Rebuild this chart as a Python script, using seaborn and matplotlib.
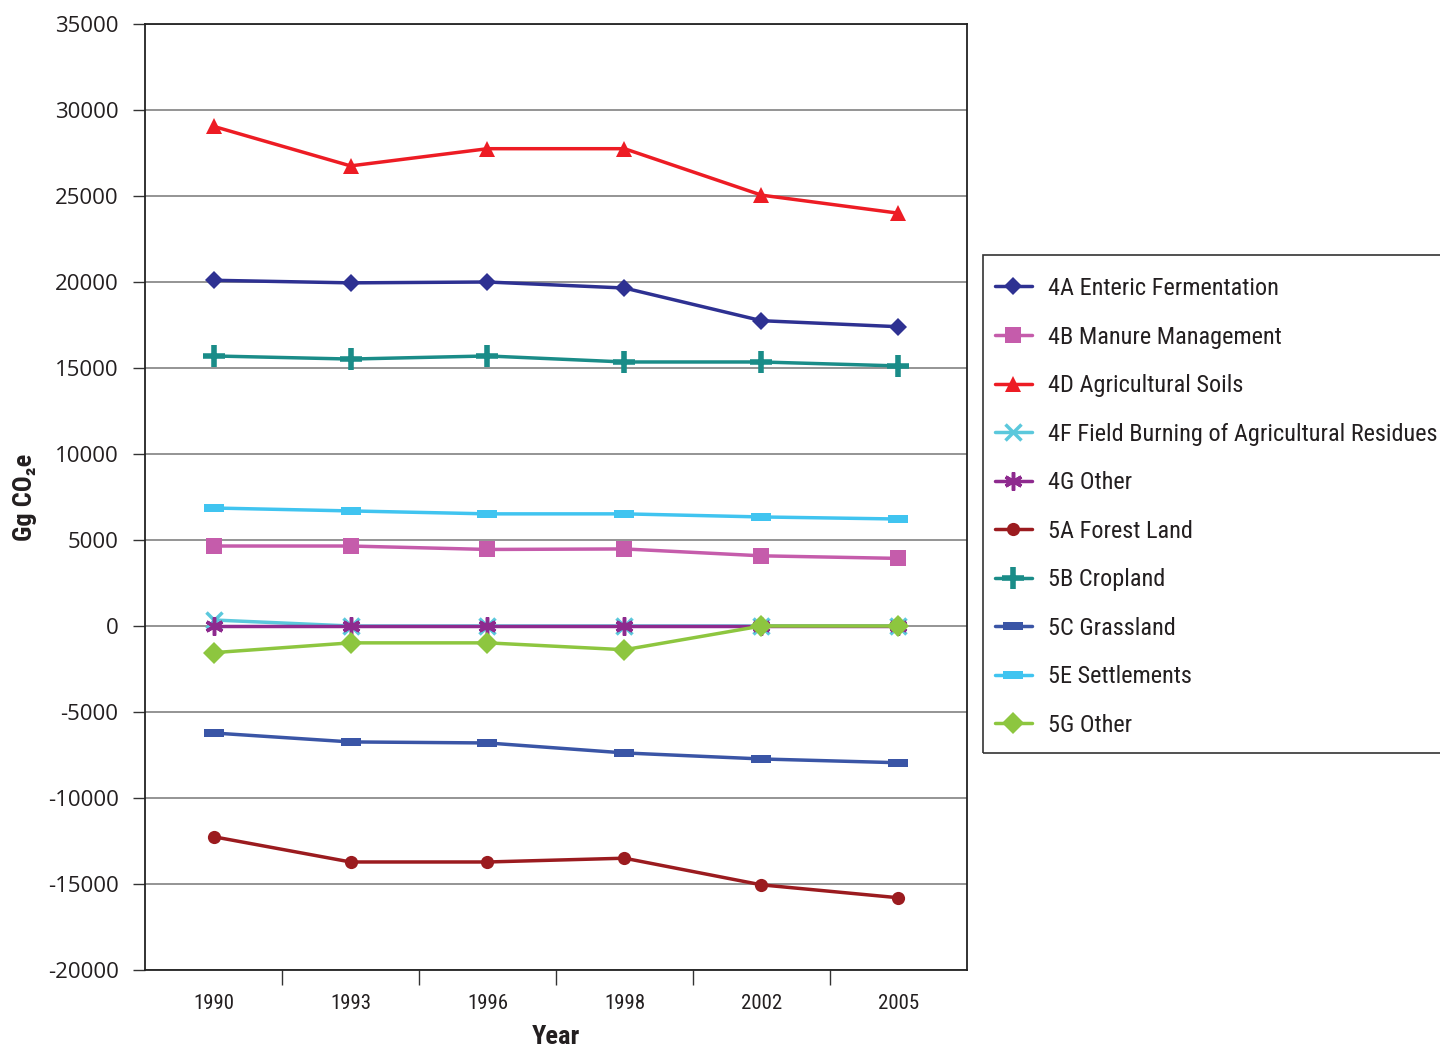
import numpy as np
import pandas as pd
import matplotlib
matplotlib.use("Agg")
import matplotlib.pyplot as plt
from matplotlib import font_manager
from matplotlib.patches import Rectangle
import seaborn as sns

years = ["1990", "1993", "1996", "1998", "2002", "2005"]

enteric_fermentation = [20100, 19950, 20000, 19650, 17750, 17400]
manure_management = [4650, 4650, 4450, 4480, 4080, 3930]
agricultural_soils = [29050, 26750, 27750, 27750, 25050, 24000]
field_burning = [350, 0, 0, 0, 0, 0]
other_4g = [0, 0, 0, 0, 0, 0]
forest_land = [-12250, -13720, -13720, -13500, -15050, -15800]
cropland = [15700, 15520, 15700, 15350, 15350, 15120]
grassland = [-6220, -6740, -6800, -7380, -7730, -7950]
settlements = [6860, 6690, 6520, 6520, 6340, 6220]
other_5g = [-1550, -980, -980, -1380, 0, 0]

series_names = [
    "4A Enteric Fermentation",
    "4B Manure Management",
    "4D Agricultural Soils",
    "4F Field Burning of Agricultural Residues",
    "4G Other",
    "5A Forest Land",
    "5B Cropland",
    "5C Grassland",
    "5E Settlements",
    "5G Other",
]
series_values = [
    enteric_fermentation, manure_management, agricultural_soils, field_burning,
    other_4g, forest_land, cropland, grassland, settlements, other_5g,
]

# wide bar-shaped marker for the land-use series
wide_bar = [(-1, -0.42), (1, -0.42), (1, 0.42), (-1, 0.42), (-1, -0.42)]

styles = {
    "4A Enteric Fermentation": dict(color="#2E3192", marker="D", ms=9.5, mew=0),
    "4B Manure Management": dict(color="#C55CAB", marker="s", ms=11, mew=0),
    "4D Agricultural Soils": dict(color="#ED1C24", marker="^", ms=11, mew=0),
    "4F Field Burning of Agricultural Residues": dict(color="#5BC8DC", marker="x", ms=11, mew=2.5),
    "4G Other": dict(color="#8E2A8E", marker=(6, 2, 0), ms=13, mew=2.5),
    "5A Forest Land": dict(color="#9B1B1F", marker="o", ms=9.5, mew=0),
    "5B Cropland": dict(color="#1A8C88", marker="+", ms=16, mew=4),
    "5C Grassland": dict(color="#3A55A6", marker=wide_bar, ms=14, mew=0),
    "5E Settlements": dict(color="#40C4F0", marker=wide_bar, ms=14, mew=0),
    "5G Other": dict(color="#8DC63F", marker="D", ms=11, mew=0),
}


def pick_font(names):
    for n in names:
        try:
            font_manager.findfont(n, fallback_to_default=False)
            return n
        except Exception:
            continue
    return "DejaVu Sans"


narrow = pick_font(["Liberation Sans Narrow", "Roboto Condensed", "Open Sans Condensed", "Liberation Sans"])
regular = pick_font(["Open Sans", "Liberation Sans"])

sns.set_theme(style="white")
plt.rcParams["font.family"] = [narrow, "DejaVu Sans"]

W, H = 1440, 1049
fig = plt.figure(figsize=(W / 100, H / 100), dpi=100)
ax = fig.add_axes([145 / W, 1 - 970 / H, (967 - 145) / W, (970 - 24) / H])

x = np.arange(len(years))
for name, vals in zip(series_names, series_values):
    st = styles[name]
    df = pd.DataFrame({"pos": x, "value": vals})
    sns.lineplot(data=df, x="pos", y="value", ax=ax, color=st["color"], lw=2.5,
                 marker=st["marker"], markersize=st["ms"], markeredgewidth=st["mew"],
                 markeredgecolor=st["color"], markerfacecolor=st["color"],
                 label=name, zorder=3)

ax.set_xlim(-0.5, len(years) - 0.5)
ax.set_ylim(-20000, 35000)
ax.set_yticks(np.arange(-20000, 35001, 5000))
ax.set_yticklabels([str(v) for v in range(-20000, 35001, 5000)],
                   fontsize=16, family=[regular, "DejaVu Sans"], color="#231F20")
ax.set_xticks(x)
ax.set_xticklabels(years, fontsize=15, color="#231F20")
ax.set_xticks(np.arange(0.5, len(years) - 0.5, 1), minor=True)
ax.tick_params(axis="x", which="major", length=0, pad=17)
ax.tick_params(axis="x", which="minor", length=11, width=1, color="#333333", direction="out", bottom=True)
ax.tick_params(axis="y", which="major", length=9, width=1, color="#333333", direction="out", left=True, pad=10)

ax.yaxis.grid(True, color="#777777", lw=1.1)
ax.set_axisbelow(True)
for sp in ax.spines.values():
    sp.set_color("#222222")
    sp.set_linewidth(1.3)

ax.set_xlabel("Year", fontsize=19, fontweight="bold", color="#231F20", labelpad=9)
ax.set_ylabel("Gg CO\u2082e", fontsize=19, fontweight="bold", color="#231F20", labelpad=8)

# legend box runs past the right edge of the figure
fig.patches.append(Rectangle((983 / W, 1 - 753 / H), (W + 20 - 983) / W, (753 - 255) / H,
                             transform=fig.transFigure, fill=False, edgecolor="#333333",
                             linewidth=1.2, clip_on=False))

handles, labels = ax.get_legend_handles_labels()
leg = ax.legend(handles, labels, loc="upper left",
                bbox_to_anchor=(995 / W, 1 - 277 / H), bbox_transform=fig.transFigure,
                fontsize=17.5, frameon=False, handlelength=1.52,
                handletextpad=0.66, labelspacing=1.05, borderpad=0, borderaxespad=0)
for t in leg.get_texts():
    t.set_color("#231F20")

fig.savefig("out.png", dpi=100)
